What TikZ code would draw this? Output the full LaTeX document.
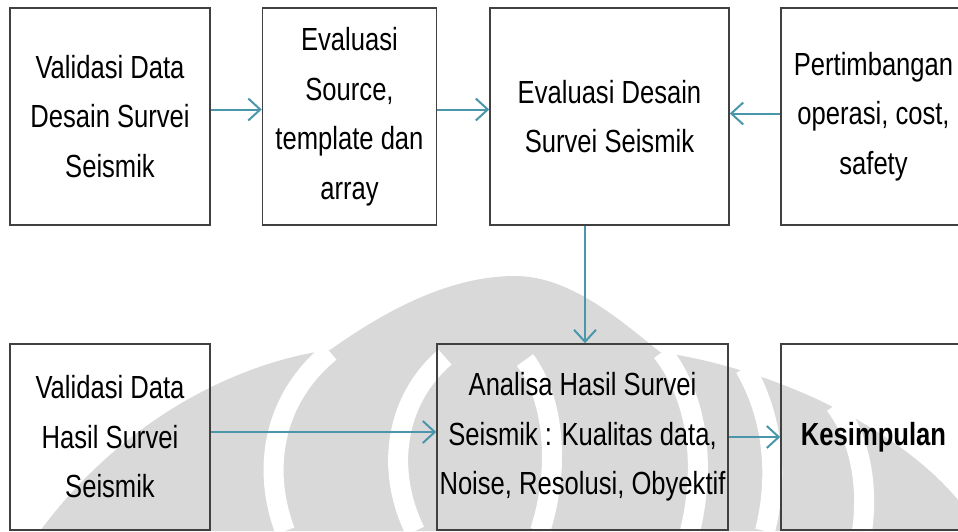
\documentclass[tikz,border=0pt]{standalone}
\usepackage{fontspec}
\setmainfont{Liberation Sans}[FakeStretch=0.8]
\usepackage{xcolor}
\usetikzlibrary{positioning,arrows.meta}
\definecolor{arrteal}{HTML}{4A96AA}
\definecolor{boxline}{HTML}{404040}
\tikzset{
  box/.style={draw=boxline, line width=0.75pt, align=center, inner sep=0pt,
    font=\fontsize{16}{24.75}\selectfont},
  flow/.style={draw=arrteal, line width=1pt, -{Straight Barb[length=6pt,width=11pt,line width=1pt]}},
  wmband/.style={draw=white, line width=10pt},
}

\begin{document}
\begin{tikzpicture}[x=0.5pt,y=-0.5pt]
\useasboundingbox (0,0) rectangle (958,531);
% watermark in the back
\fill[black!15] (40,531) .. controls (130,410) and (250,360) .. (330,350)
  .. controls (400,300) and (460,276) .. (515,276)
  .. controls (570,276) and (620,320) .. (660,352)
  .. controls (780,370) and (900,430) .. (958,500) -- (958,531) -- cycle;
\draw[wmband] (330,352) .. controls (272,400) and (262,470) .. (285,531);
\draw[wmband] (445,357) .. controls (395,400) and (385,470) .. (415,531);
\draw[wmband] (525,360) .. controls (555,400) and (560,470) .. (540,531);
\draw[wmband] (662,352) .. controls (700,400) and (705,470) .. (690,531);
\draw[wmband] (745,368) .. controls (775,420) and (778,480) .. (765,531);
\draw[wmband] (835,405) .. controls (862,440) and (868,490) .. (862,531);
% top row
\node[box, minimum width=100pt, minimum height=108.5pt] (valdesain) at (110,116.5)
  {Validasi Data\\Desain Survei\\Seismik};
\node[box, minimum width=87pt, minimum height=108.5pt] (evsource) at (349.5,116.5)
  {Evaluasi\\Source,\\template dan\\array};
\node[box, minimum width=119.5pt, minimum height=108.5pt] (evdesain) at (609.5,116.5)
  {Evaluasi Desain\\Survei Seismik};
\node[box, minimum width=92.5pt, minimum height=108.5pt] (pertimb) at (873.5,116.5)
  {Pertimbangan\\operasi, cost,\\safety};
% bottom row
\node[box, minimum width=100pt, minimum height=93pt] (valhasil) at (110,437)
  {Validasi Data\\Hasil Survei\\Seismik};
\node[box, minimum width=145.5pt, minimum height=93pt] (analisa) at (582.5,437)
  {Analisa Hasil Survei\\Seismik : Kualitas data,\\Noise, Resolusi, Obyektif};
\node[box, minimum width=92.5pt, minimum height=93pt] (kesimp) at (873.5,437)
  {\bfseries Kesimpulan};
% connectors
\draw[flow] ([yshift=3.5pt]valdesain.east) -- ([yshift=3.5pt]evsource.west);
\draw[flow] ([yshift=3.5pt]evsource.east) -- ([yshift=3.5pt]evdesain.west);
\draw[flow] ([yshift=1.5pt]pertimb.west) -- ([yshift=1.5pt]evdesain.east);
\draw[flow] ([xshift=1.25pt]analisa.north |- evdesain.south) -- ([xshift=1.25pt]analisa.north);
\draw[flow] ([yshift=2.5pt]valhasil.east) -- ([yshift=2.5pt]analisa.west);
\draw[flow] (analisa.east) -- (kesimp.west);
\end{tikzpicture}
\end{document}
